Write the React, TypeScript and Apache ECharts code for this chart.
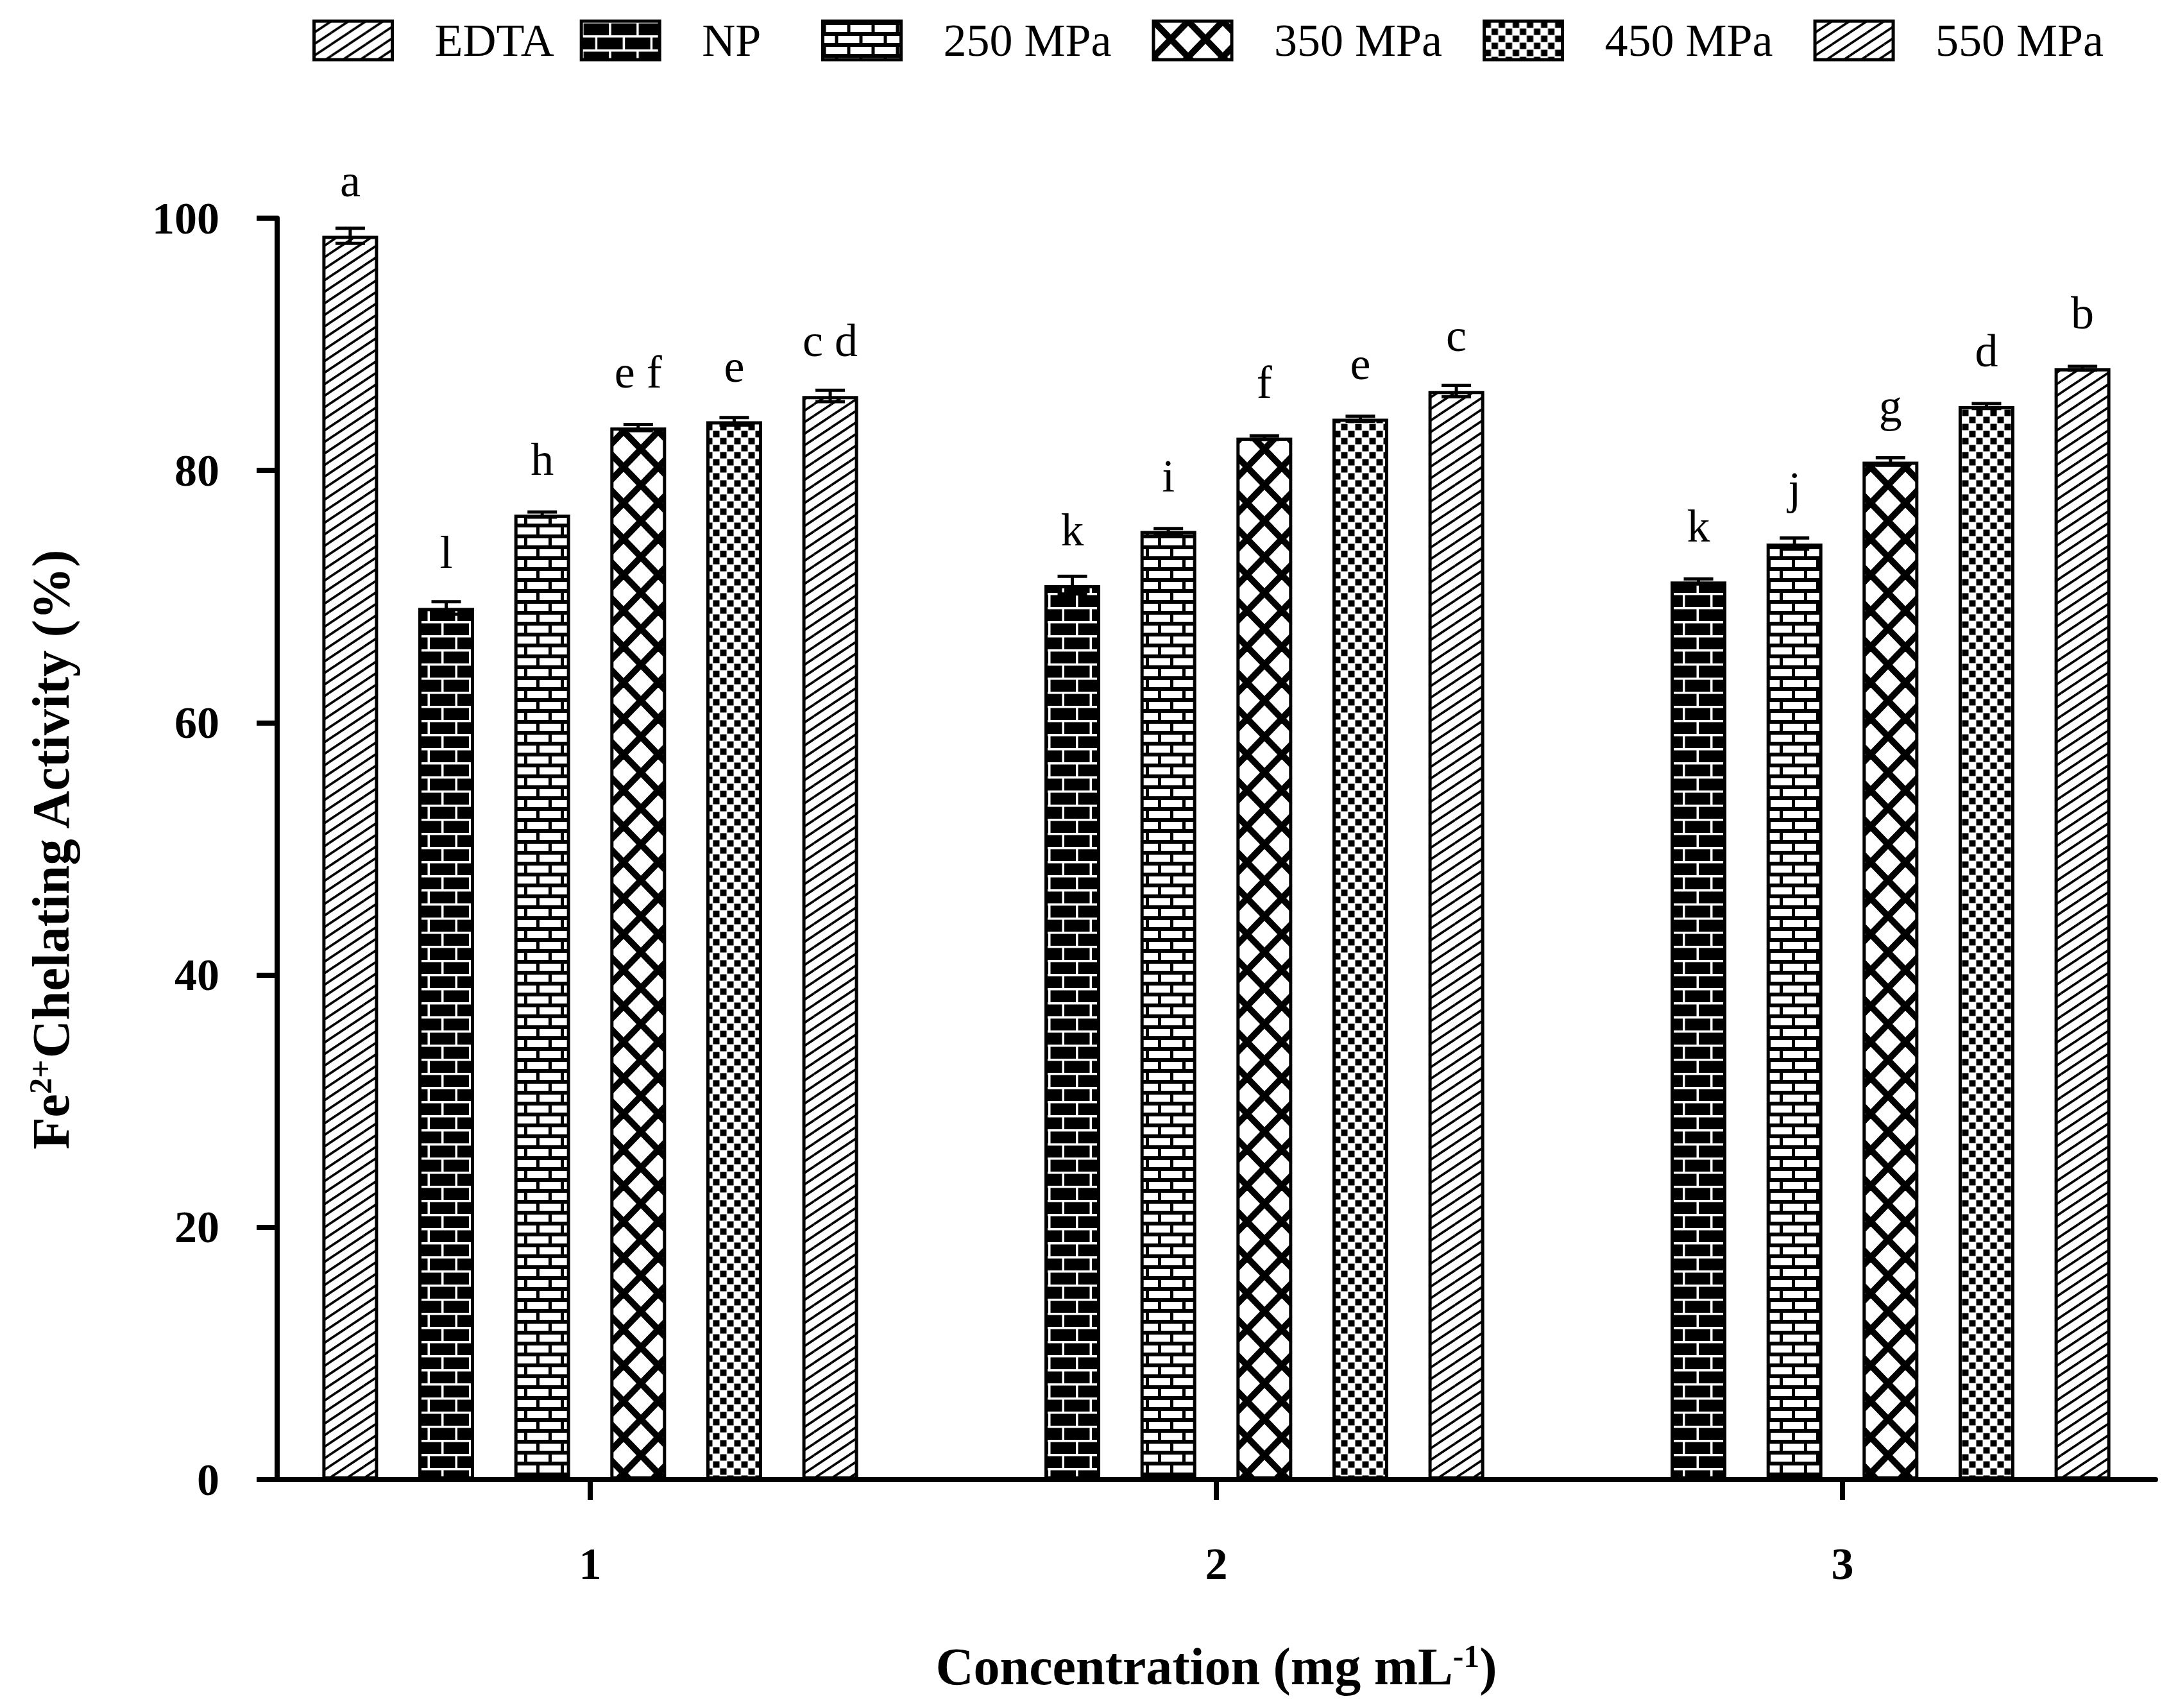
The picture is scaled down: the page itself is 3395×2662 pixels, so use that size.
import React, { useEffect, useRef } from 'react';
import * as echarts from 'echarts';

const FONT = '"Liberation Serif", "Times New Roman", serif';

// categories (concentration, mg/mL) and treatments
const categories = ['1', '2', '3'];
const treatments = ['EDTA', 'NP', '250 MPa', '350 MPa', '450 MPa', '550 MPa'];

// mean chelating activity (%) per treatment, one value per concentration
const edta = [98.6, null, null];
const np = [69.1, 70.9, 71.2];
const mpa250 = [76.5, 75.2, 74.2];
const mpa350 = [83.4, 82.6, 80.7];
const mpa450 = [83.9, 84.1, 85.1];
const mpa550 = [85.9, 86.3, 88.1];

// standard deviations (error bars)
const edtaErr = [0.6, null, null];
const npErr = [0.5, 0.7, 0.2];
const mpa250Err = [0.2, 0.2, 0.45];
const mpa350Err = [0.25, 0.15, 0.3];
const mpa450Err = [0.3, 0.2, 0.2];
const mpa550Err = [0.45, 0.45, 0.15];

// significance letters
const edtaLetters = ['a', '', ''];
const npLetters = ['l', 'k', 'k'];
const mpa250Letters = ['h', 'i', 'j'];
const mpa350Letters = ['e f', 'f', 'g'];
const mpa450Letters = ['e', 'e', 'd'];
const mpa550Letters = ['c d', 'c', 'b'];

const yTicks = [0, 20, 40, 60, 80, 100];

const BAR_W = 87;
const BAR_GAP = '72%';

type Ctx = CanvasRenderingContext2D;

const makeTile = (w: number, h: number, bg: string, draw: (ctx: Ctx) => void) => {
  const canvas = document.createElement('canvas');
  canvas.width = w;
  canvas.height = h;
  const ctx = canvas.getContext('2d') as Ctx;
  ctx.fillStyle = bg;
  ctx.fillRect(0, 0, w, h);
  draw(ctx);
  return { image: canvas.toDataURL('image/png'), repeat: 'repeat', imageWidth: w, imageHeight: h } as any;
};

// diagonal line through the tile, repeated on the neighbours so corners join
const diag = (ctx: Ctx, w: number, h: number, lw: number, up: boolean) => {
  ctx.strokeStyle = '#000';
  ctx.lineWidth = lw;
  for (const dx of [-w, 0, w]) {
    for (const dy of [-h, 0, h]) {
      ctx.beginPath();
      if (up) {
        ctx.moveTo(dx, dy + h);
        ctx.lineTo(dx + w, dy);
      } else {
        ctx.moveTo(dx, dy);
        ctx.lineTo(dx + w, dy + h);
      }
      ctx.stroke();
    }
  }
};

const buildPatterns = () => {
  const hatch = makeTile(27, 18, '#fff', (ctx) => diag(ctx, 27, 18, 3.6, true));
  const darkBrick = makeTile(43, 44, '#000', (ctx) => {
    ctx.fillStyle = '#fff';
    ctx.fillRect(0, 0, 43, 3.5);
    ctx.fillRect(0, 22, 43, 3.5);
    ctx.fillRect(0, 0, 3.5, 22);
    ctx.fillRect(21.5, 22, 3.5, 22);
  });
  const lightBrick = makeTile(38, 34, '#fff', (ctx) => {
    ctx.fillStyle = '#000';
    ctx.fillRect(0, 0, 38, 6);
    ctx.fillRect(0, 17, 38, 6);
    ctx.fillRect(0, 0, 5, 17);
    ctx.fillRect(19, 17, 5, 17);
  });
  const lattice = makeTile(54, 56, '#fff', (ctx) => {
    diag(ctx, 54, 56, 10, true);
    diag(ctx, 54, 56, 10, false);
  });
  const checker = makeTile(22, 22, '#fff', (ctx) => {
    ctx.fillStyle = '#000';
    ctx.fillRect(0.5, 0.5, 10, 10);
    ctx.fillRect(11.5, 11.5, 10, 10);
  });
  return [hatch, darkBrick, lightBrick, lattice, checker, hatch];
};

const App: React.FC = () => {
  const chartRef = useRef<HTMLDivElement>(null);

  useEffect(() => {
    if (!chartRef.current) return;
    document.body.style.margin = '0';

    const chart = echarts.init(chartRef.current, null, { renderer: 'svg' });
    const patterns = buildPatterns();

    const values = [edta, np, mpa250, mpa350, mpa450, mpa550];
    const errors = [edtaErr, npErr, mpa250Err, mpa350Err, mpa450Err, mpa550Err];
    const letters = [edtaLetters, npLetters, mpa250Letters, mpa350Letters, mpa450Letters, mpa550Letters];

    const errRows: number[][] = [];
    const errLetters: string[] = [];
    values.forEach((vals, t) => {
      vals.forEach((v, c) => {
        if (v == null) return;
        errRows.push([c, v, errors[t][c] ?? 0, t]);
        errLetters.push(letters[t][c]);
      });
    });

    const barSeries = treatments.map((name, t) => ({
      name,
      type: 'bar',
      data: values[t],
      barWidth: BAR_W,
      barGap: BAR_GAP,
      itemStyle: { color: patterns[t], borderColor: '#000', borderWidth: 5 },
      emphasis: { disabled: true },
      silent: true,
    }));

    const legendBase = {
      top: 22,
      itemWidth: 122,
      itemHeight: 60,
      icon: 'rect',
      selectedMode: false,
      itemStyle: { borderColor: '#000', borderWidth: 5 },
      textStyle: { fontFamily: FONT, fontSize: 72, color: '#000', padding: [0, 0, 0, 61] },
    };

    const axisLine = { show: true, lineStyle: { color: '#000', width: 8 } };
    const axisTick = { show: true, inside: false, length: 32, lineStyle: { color: '#000', width: 8 } };
    const titleRich = {
      b: { fontSize: 82, fontWeight: 'bold', fontFamily: FONT, color: '#000', lineHeight: 82 },
      sup: { fontSize: 50, fontWeight: 'bold', fontFamily: FONT, color: '#000', lineHeight: 50, verticalAlign: 'top' },
    };

    const option: echarts.EChartsOption = {
      animation: false,
      backgroundColor: '#fff',
      textStyle: { fontFamily: FONT, color: '#000' },
      legend: [
        { ...legendBase, left: 482, itemGap: 40, data: treatments.slice(0, 2) },
        { ...legendBase, left: 1275, itemGap: 63, data: treatments.slice(2) },
      ] as any,
      grid: { left: 432, right: 35, top: 340, bottom: 356, containLabel: false },
      xAxis: {
        type: 'category',
        data: categories,
        axisLine,
        axisTick: { ...axisTick, alignWithLabel: true },
        axisLabel: { margin: 96, fontSize: 70, fontWeight: 'bold', color: '#000', fontFamily: FONT },
        name: '{b|Concentration (mg mL}{sup|-1}{b|)}',
        nameLocation: 'middle',
        nameGap: 250,
        nameTextStyle: { rich: titleRich } as any,
      },
      yAxis: {
        type: 'value',
        min: yTicks[0],
        max: yTicks[yTicks.length - 1],
        interval: yTicks[1] - yTicks[0],
        axisLine,
        axisTick,
        splitLine: { show: false },
        axisLabel: { margin: 90, fontSize: 70, fontWeight: 'bold', color: '#000', fontFamily: FONT },
        name: '{b|Fe}{sup|2+}{b|Chelating Activity (%)}',
        nameLocation: 'middle',
        nameGap: 312,
        nameTextStyle: { rich: titleRich } as any,
      },
      series: [
        ...barSeries,
        {
          type: 'custom',
          silent: true,
          z: 10,
          data: errRows,
          renderItem: (params: any, api: any) => {
            const c = api.value(0);
            const v = api.value(1);
            const e = api.value(2);
            const t = api.value(3);
            let offset = (t - 2.5) * BAR_W * 1.72;
            const layout = api.barLayout ? api.barLayout({ count: 6, barWidth: BAR_W, barGap: BAR_GAP }) : null;
            if (layout && layout[t]) offset = layout[t].offsetCenter;
            const base = api.coord([c, v]);
            const cx = base[0] + offset;
            const yHi = api.coord([c, v + e])[1];
            const yLo = api.coord([c, v - e])[1];
            const half = 23;
            const ls = { stroke: '#000', lineWidth: 5 };
            return {
              type: 'group',
              children: [
                { type: 'line', shape: { x1: cx, y1: yHi, x2: cx, y2: yLo }, style: ls },
                { type: 'line', shape: { x1: cx - half, y1: yHi, x2: cx + half, y2: yHi }, style: ls },
                { type: 'line', shape: { x1: cx - half, y1: yLo, x2: cx + half, y2: yLo }, style: ls },
                {
                  type: 'text',
                  style: {
                    text: errLetters[params.dataIndex],
                    x: cx,
                    y: base[1] - 86,
                    align: 'center',
                    verticalAlign: 'middle',
                    fontSize: 72,
                    fontFamily: FONT,
                    fill: '#000',
                  },
                },
              ],
            };
          },
        } as any,
      ],
    };

    chart.setOption(option);

    return () => {
      chart.dispose();
    };
  }, []);

  return <div ref={chartRef} style={{ width: '3395px', height: '2662px' }} />;
};

export default App;
